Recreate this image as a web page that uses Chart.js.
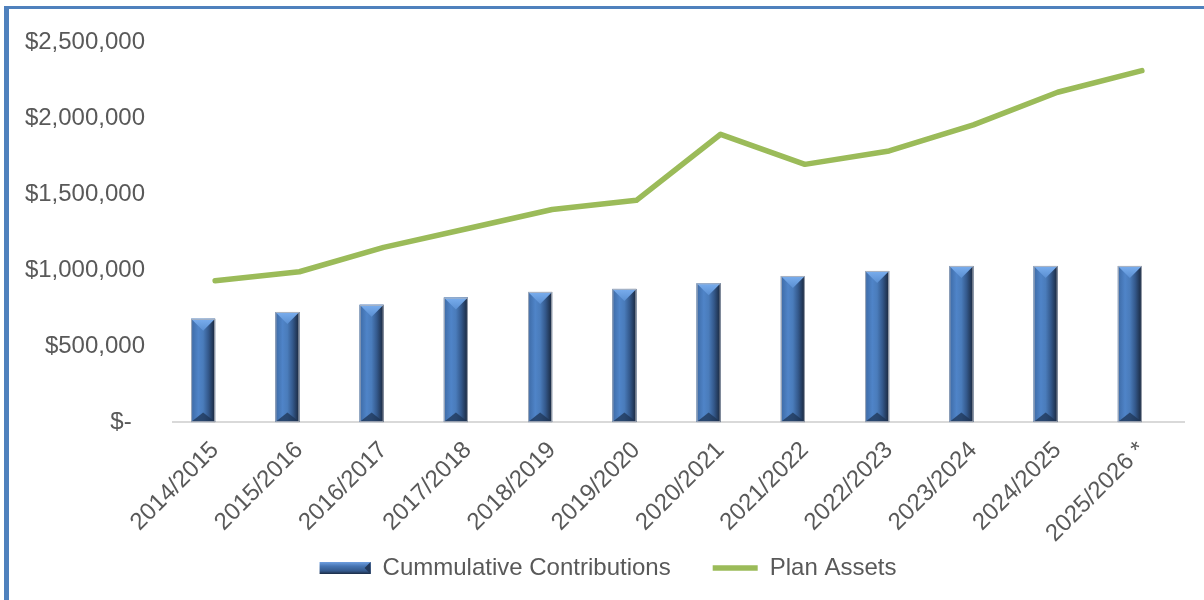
<!DOCTYPE html>
<html>
<head>
<meta charset="utf-8">
<script src="https://cdn.jsdelivr.net/npm/chart.js@4.4.1/dist/chart.umd.min.js"></script>
<style>
  html, body { margin: 0; padding: 0; background: #fff; }
  #wrap { position: relative; width: 1204px; height: 600px; overflow: hidden; }
  #wrap canvas { position: absolute; left: 0; top: 0; }
  .frame { position: absolute; left: 4px; top: 6px; right: -10px; bottom: -10px;
           border-top: 3px solid #4f81bd; border-left: 5px solid #4f81bd; pointer-events: none; }
</style>
</head>
<body>
<div id="wrap">
  <canvas id="plan-chart" width="1204" height="600"></canvas>
  <div class="frame"></div>
</div>
<script>
// Fiscal years on the x axis
const seasons = ['2014/2015', '2015/2016', '2016/2017', '2017/2018', '2018/2019', '2019/2020',
  '2020/2021', '2021/2022', '2022/2023', '2023/2024', '2024/2025', '2025/2026 *'];

// Running total of contributions paid in
const contributions = [680000, 725000, 772000, 820000, 857000, 877000,
  914000, 962000, 995000, 1028000, 1028000, 1028000];

// Market value of the plan
const planAssets = [930000, 990000, 1150000, 1275000, 1400000, 1460000,
  1895000, 1697000, 1785000, 1957000, 2172000, 2314000];

// second (empty) bar column, keeps the bars left of the category centre
const spacer = [null, null, null, null, null, null, null, null, null, null, null, null];

const yMax = 2500000;
const yStep = 500000;

const textColor = '#595959';
Chart.defaults.font.family = '"Liberation Sans", Arial, sans-serif';
Chart.defaults.font.size = 24;
Chart.defaults.color = textColor;

function money(v){
	if( v === 0 ){
		return '$-  ';
	}
	return '$' + v.toLocaleString('en-US');
}

// tick labels are allowed to spill out of their scale box
function noLabelClip(scale){
	scale._computeLabelArea = function(){ return undefined; };
}

// Bevelled look for the columns and their legend swatch
const bevelBars = {
	id: 'bevelBars',
	afterDatasetDraw: function(chart, args){
		if( args.index !== 0 ){
			return;
		}
		const ctx = chart.ctx;
		const meta = chart.getDatasetMeta(0);
		ctx.save();
		meta.data.forEach(function(bar){
			const p = bar.getProps(['x', 'y', 'base', 'width'], true);
			const x0 = p.x - p.width / 2, x1 = p.x + p.width / 2;
			const top = p.y, bottom = p.base;
			const half = p.width / 2;

			const body = ctx.createLinearGradient(x0, 0, x1, 0);
			body.addColorStop(0, '#3d6aa5');
			body.addColorStop(0.3, '#4f84c8');
			body.addColorStop(0.5, '#4a7cbb');
			body.addColorStop(0.72, '#34598c');
			body.addColorStop(1, '#18253a');
			ctx.fillStyle = body;
			ctx.fillRect(x0, top, p.width, bottom - top);

			// top facet
			const cap = ctx.createLinearGradient(0, top, 0, top + half);
			cap.addColorStop(0, '#7aaeee');
			cap.addColorStop(1, '#5a8fd2');
			ctx.fillStyle = cap;
			ctx.beginPath();
			ctx.moveTo(x0, top);
			ctx.lineTo(x1, top);
			ctx.lineTo(p.x, top + half);
			ctx.closePath();
			ctx.fill();

			// bottom facet
			ctx.fillStyle = 'rgba(30, 52, 84, 0.75)';
			ctx.beginPath();
			ctx.moveTo(x0, bottom);
			ctx.lineTo(x1, bottom);
			ctx.lineTo(p.x, bottom - half * 0.8);
			ctx.closePath();
			ctx.fill();

			ctx.strokeStyle = 'rgba(175, 180, 188, 0.9)';
			ctx.lineWidth = 1;
			ctx.strokeRect(x0 + 0.5, top + 0.5, p.width - 1, bottom - top - 1);
		});
		ctx.restore();
	},
	afterDraw: function(chart){
		const legend = chart.legend;
		if( !legend || !legend.legendHitBoxes.length ){
			return;
		}
		const hb = legend.legendHitBoxes[0];
		const w = chart.options.plugins.legend.labels.pointStyleWidth + 6;
		const h = 12;
		const x0 = hb.left - 6, y0 = hb.top + hb.height / 2 - h / 2;
		const ctx = chart.ctx;
		ctx.save();
		const g = ctx.createLinearGradient(0, y0, 0, y0 + h);
		g.addColorStop(0, '#6f9fe0');
		g.addColorStop(0.35, '#4674b2');
		g.addColorStop(0.75, '#34598c');
		g.addColorStop(1, '#1b2b44');
		ctx.fillStyle = g;
		ctx.fillRect(x0, y0, w, h);
		ctx.fillStyle = '#22385a';
		ctx.beginPath();
		ctx.moveTo(x0 + w, y0);
		ctx.lineTo(x0 + w, y0 + h);
		ctx.lineTo(x0 + w - h / 2, y0 + h / 2);
		ctx.closePath();
		ctx.fill();
		ctx.restore();
	}
};

new Chart(document.getElementById('plan-chart'), {
	data: {
		labels: seasons,
		datasets: [
			{
				type: 'bar',
				label: 'Cummulative Contributions',
				data: contributions,
				backgroundColor: '#3d6aa6',
				borderWidth: 0,
				barPercentage: 1,
				categoryPercentage: 0.57,
				pointStyle: 'rect',
				order: 2
			},
			{
				type: 'bar',
				label: '',
				data: spacer,
				backgroundColor: 'rgba(0,0,0,0)',
				barPercentage: 1,
				categoryPercentage: 0.57,
				order: 3
			},
			{
				type: 'line',
				label: 'Plan Assets',
				data: planAssets,
				borderColor: '#9bbb59',
				backgroundColor: '#9bbb59',
				borderWidth: 5.5,
				borderCapStyle: 'round',
				borderJoinStyle: 'round',
				pointRadius: 0,
				pointHoverRadius: 0,
				pointStyle: 'line',
				tension: 0,
				order: 1
			}
		]
	},
	options: {
		responsive: false,
		animation: false,
		layout: {
			padding: { top: 40, right: 20, bottom: 10, left: 38 }
		},
		scales: {
			x: {
				grid: { display: false },
				border: { display: true, color: '#d9d9d9', width: 2 },
				ticks: {
					color: textColor,
					maxRotation: 45,
					minRotation: 45,
					padding: 6
				},
				afterFit: function(scale){
					scale.height = scale.height - 40;
					noLabelClip(scale);
				}
			},
			y: {
				min: 0,
				max: yMax,
				grid: { display: false, drawTicks: false },
				border: { display: false },
				ticks: {
					stepSize: yStep,
					color: textColor,
					padding: 28,
					callback: function(value){ return money(value); }
				},
				afterFit: function(scale){
					scale.width = 135;
					noLabelClip(scale);
				}
			}
		},
		plugins: {
			legend: {
				position: 'bottom',
				labels: {
					usePointStyle: true,
					pointStyleWidth: 45,
					boxHeight: 12,
					padding: 42,
					color: textColor,
					sort: function(a, b){ return a.datasetIndex - b.datasetIndex; },
					filter: function(item){ return item.text !== ''; }
				}
			},
			tooltip: { enabled: false }
		}
	},
	plugins: [bevelBars]
});
</script>
</body>
</html>
